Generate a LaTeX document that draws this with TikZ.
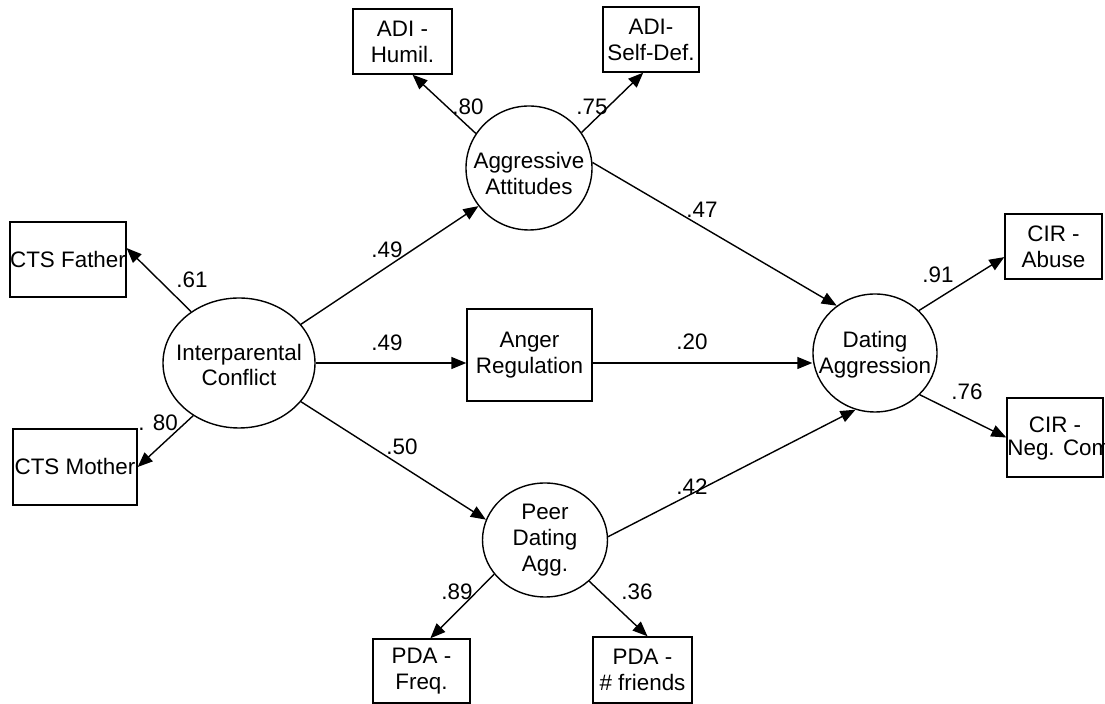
\documentclass[tikz,border=0pt]{standalone}
\usepackage{fontspec}
\setmainfont{Liberation Sans}
\usetikzlibrary{shapes.geometric,arrows.meta,calc}
\begin{document}
\begin{tikzpicture}[x=0.5pt,y=-0.5pt,
  every node/.style={font=\fontsize{11.2}{13}\selectfont},
  box/.style={draw, rectangle, inner sep=0pt, align=center, line width=0.7pt},
  lat/.style={draw, ellipse, inner sep=0pt, line width=0.7pt},
  ltext/.style={align=center, inner sep=0pt},
  arr/.style={-{Triangle[length=7.5pt,width=6pt]}, line width=0.7pt},
  lbl/.style={inner sep=0pt}]
\clip (0,0) rectangle (1105,704);
\fill[white] (0,0) rectangle (1105,704);
% observed indicators
\node[box, minimum width=49.5pt, minimum height=32.5pt] (adih) at (402.5,41.5) {ADI -\\Humil.};
\node[box, minimum width=48pt, minimum height=32.5pt] (adis) at (651,39.5) {ADI-\\Self-Def.};
\node[box, minimum width=55pt, minimum height=37.5pt] (ctsf) at (68,259.5) {CTS Father};
\node[box, minimum width=62pt, minimum height=38pt] (ctsm) at (75,467) {CTS Mother};
\node[box, minimum width=62.5pt, minimum height=46pt] (ar) at (529.5,355) {Anger\\Regulation};
\node[box, minimum width=48.5pt, minimum height=32.5pt] (cira) at (1053.5,246.5) {CIR -\\Abuse};
\node[box, minimum width=48pt, minimum height=39.5pt] (cirn) at (1055,437.5) {};
\node[lbl] (cirnt) at (1055,425) {CIR -};
\node[lbl, anchor=west] (cirnb) at (1007,450) {Neg. Com};
\node[box, minimum width=48.5pt, minimum height=32pt] (pdaf) at (421.5,671) {PDA -\\Freq.};
\node[box, minimum width=49.5pt, minimum height=33pt] (pdan) at (642.5,670) {PDA -\\\# friends};
% latent variables
\node[lat, minimum width=63pt, minimum height=62pt] (aa) at (529,168) {};
\node[ltext] (aat) at (529,174) {Aggressive\\Attitudes};
\node[lat, minimum width=76pt, minimum height=65pt] (ic) at (239,363) {};
\node[ltext] (ict) at (239,365) {Interparental\\Conflict};
\node[lat, minimum width=62pt, minimum height=59pt] (da) at (875,353) {};
\node[ltext] (dat) at (875,355) {Dating\\Aggression};
\node[lat, minimum width=62.5pt, minimum height=57pt] (pdag) at (545,540) {};
\node[ltext] (pdagt) at (545,540) {Peer\\Dating\\Agg.};
% paths
\draw[arr] (ic.133) -- ($(ctsf.north east)!0.35!(ctsf.south east)$);
\draw[arr] (ic.229) -- (ctsm.east);
\draw[arr] (ic.32) -- (aa.217);
\draw[arr] (ic.east) -- (ic.east -| ar.west);
\draw[arr] (ic.328) -- (pdag.161);
\draw[arr] (aa.147) -- ($(adih.south west)!0.6!(adih.south east)$);
\draw[arr] (aa.34) -- ($(adis.south west)!0.42!(adis.south east)$);
\draw[arr] (aa.5) -- (da.129);
\draw[arr] (ar.east |- ic.east) -- (da.west |- ic.east);
\draw[arr] (pdag.3) -- (da.251);
\draw[arr] (da.44) -- ($(cira.north west)!0.66!(cira.south west)$);
\draw[arr] (da.317) -- (cirn.west);
\draw[arr] (pdag.214) -- ($(pdaf.north west)!0.59!(pdaf.north east)$);
\draw[arr] (pdag.317) -- ($(pdan.north west)!0.55!(pdan.north east)$);
% coefficients
\node[lbl] (l1) at (192,280) {.61};
\node[lbl] (l2) at (158,423) {. 80};
\node[lbl] (l3) at (387,250) {.49};
\node[lbl] (l4) at (387,343) {.49};
\node[lbl] (l5) at (402,447) {.50};
\node[lbl] (l6) at (468,107) {.80};
\node[lbl] (l7) at (592,107) {.75};
\node[lbl] (l8) at (702,210) {.47};
\node[lbl] (l9) at (692,342) {.20};
\node[lbl] (l10) at (692,487) {.42};
\node[lbl] (l11) at (938,275) {.91};
\node[lbl] (l12) at (967,392) {.76};
\node[lbl] (l13) at (457,592) {.89};
\node[lbl] (l14) at (637,592) {.36};
\end{tikzpicture}
\end{document}
